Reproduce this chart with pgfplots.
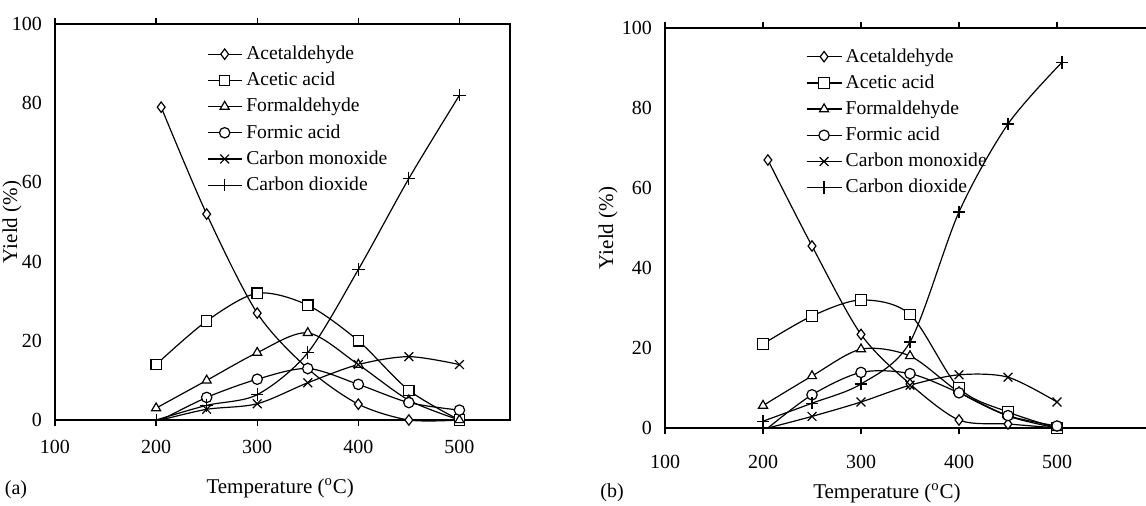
\documentclass[border=0pt]{standalone}
\usepackage{pgfplots}
\pgfplotsset{compat=1.18}
\usepackage{fontspec}
\setmainfont{Liberation Serif}
\begin{document}
\begin{tikzpicture}
\useasboundingbox (0,0) rectangle (573pt,252.5pt);
\pgfplotsset{
  myax/.style={
    scale only axis,
    xmin=100, ymin=0, ymax=100,
    xtick={100,200,300,400,500},
    ytick={0,20,40,60,80,100},
    tick align=outside,
    major tick length=3pt,
    ytick style={draw=none},
    axis line style={line width=0.9pt},
    xtick style={black, line width=0.7pt},
    tick label style={font=\fontsize{10}{12}\selectfont},
    label style={font=\fontsize{10.5}{12}\selectfont},
    /pgf/number format/assume math mode=true,
    clip=false,
    legend cell align=left,
    legend style={draw=none, fill=none, font=\fontsize{9.8}{11}\selectfont, row sep=0.8pt, anchor=north west},
    every axis plot/.append style={black, line width=0.6pt, smooth, tension=0.5, mark size=2.6pt, mark options={solid, fill=white}},
  },
}
% ---------------- panel (a)
\begin{axis}[myax,
  at={(27.5pt,42.5pt)}, anchor=south west,
  width=227.5pt, height=198pt, xmax=550,
  xlabel={Temperature ($^{\mathrm{o}}$C)}, ylabel={Yield (\%)},
  xlabel style={at={(axis description cs:0.495,0)}, anchor=center, yshift=-34pt},
  ylabel style={at={(axis description cs:-0.0945,0.5)}, anchor=center},
  xticklabel style={yshift=-3.5pt},
  legend style={at={(0.32,0.966)}},
]
\addplot[mark=diamond*] coordinates {(205,79) (250,52) (300,27) (350,13) (400,4) (450,0) (500,0)};
\addlegendentry{Acetaldehyde}
\addplot[mark=square*] coordinates {(200,14) (250,25) (300,32) (350,29) (400,20) (450,7.5) (500,0)};
\addlegendentry{Acetic acid}
\addplot[mark=triangle*] coordinates {(200,3) (250,10) (300,17) (350,22) (400,14) (450,5) (500,0)};
\addlegendentry{Formaldehyde}
\addplot[mark=*, mark phase=2] coordinates {(205,0) (250,5.7) (300,10.3) (350,13) (400,9) (450,4.4) (500,2.5)};
\addlegendentry{Formic acid}
\addplot[mark=x, mark size=3.1pt, mark phase=2] coordinates {(205,0) (250,2.7) (300,4.1) (350,9.4) (400,14) (450,16) (500,14)};
\addlegendentry{Carbon monoxide}
\addplot[mark=+, mark size=3.1pt] coordinates {(200,0) (250,3.7) (300,6.4) (350,17) (400,38) (450,61) (500,82)};
\addlegendentry{Carbon dioxide}
\end{axis}
% ---------------- panel (b)
\begin{axis}[myax,
  at={(332.5pt,38.5pt)}, anchor=south west,
  width=245pt, height=200pt, xmax=600,
  xlabel={Temperature ($^{\mathrm{o}}$C)}, ylabel={Yield (\%)},
  xlabel style={at={(axis description cs:0.453,0)}, anchor=center, yshift=-32.5pt},
  ylabel style={at={(axis description cs:-0.116,0.5)}, anchor=center},
  xticklabel style={yshift=-7pt},
  legend style={at={(0.2755,0.97)}},
]
\addplot[mark=diamond*] coordinates {(205,67) (250,45.5) (300,23.4) (350,11) (400,2) (450,1) (500,0)};
\addlegendentry{Acetaldehyde}
\addplot[mark=square*] coordinates {(200,21) (250,28) (300,32) (350,28.4) (400,10) (450,4) (500,0)};
\addlegendentry{Acetic acid}
\addplot[mark=triangle*] coordinates {(200,5.6) (250,13) (300,19.7) (350,18) (400,9) (450,3) (500,0)};
\addlegendentry{Formaldehyde}
\addplot[mark=*, mark phase=2] coordinates {(205,0) (250,8.3) (300,13.9) (350,13.6) (400,8.8) (450,3.1) (500,0.5)};
\addlegendentry{Formic acid}
\addplot[mark=x, mark size=3.1pt, mark phase=2] coordinates {(205,0) (250,2.9) (300,6.5) (350,10.7) (400,13.3) (450,12.7) (500,6.5)};
\addlegendentry{Carbon monoxide}
\addplot[mark=+, mark size=3.1pt] coordinates {(200,1.7) (250,6.2) (300,11) (350,21.5) (400,54) (450,76) (505,91.4)};
\addlegendentry{Carbon dioxide}
\end{axis}
\node[font=\fontsize{10}{12}\selectfont] at (8pt,7.5pt) {(a)};
\node[font=\fontsize{10}{12}\selectfont] at (306pt,6pt) {(b)};
\end{tikzpicture}
\end{document}
